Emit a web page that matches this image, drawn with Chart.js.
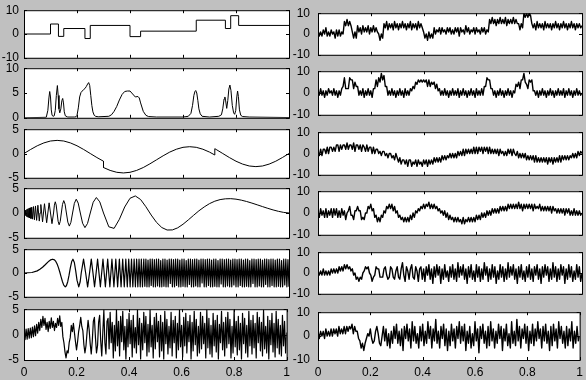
<!DOCTYPE html>
<html>
<head>
<meta charset="utf-8">
<script src="https://cdn.jsdelivr.net/npm/chart.js@4/dist/chart.umd.min.js"></script>
<style>
    html, body { margin: 0; padding: 0; background: #c0c0c0; overflow: hidden; }
    #wrap { position: relative; width: 586px; height: 380px; overflow: hidden; }
    #wrap canvas { position: absolute; }
</style>
</head>
<body>
<div id="wrap"></div>
<script>
// ---- data ----

// left column: clean test signals
const blocksT = [0, .1, .13, .15, .23, .25, .40, .44, .65, .76, .78, .81, 1];
const blocksV = [0, 4.2, -1, 2.3, -1.9, 3.6, -1.1, 1.2, 5.8, 2.3, 7.7, 3.6, 3.6];

const bumpsT = [0, .084, .09, .094, .097, .1, .103, .106, .11, .114, .118, .122, .126, .129, .132, .135, .139, .143, .146, .149,
    .152, .156, .165, .19, .196, .2, .205, .21, .215, .22, .225, .23, .235, .24, .244, .248, .252, .256, .26, .265,
    .27, .28, .32, .33, .34, .35, .36, .37, .38, .39, .40, .41, .42, .43, .435, .44, .45, .46, .47, .5,
    .6, .62, .63, .636, .641, .645, .648, .652, .656, .66, .665, .672, .7, .735, .745, .75, .755, .758, .761, .765,
    .769, .773, .777, .781, .786, .791, .795, .799, .803, .806, .809, .813, .818, .825, .85, 1];
const bumpsV = [0, .1, 1.5, 4, 5.3, 4.2, 1.6, .5, .3, .4, 1.5, 4.5, 6.5, 4.5, 1.8, 1.0, 1.8, 3.5, 3.9, 3,
    1.2, .4, .15, .15, .2, .5, 2, 4.2, 5.1, 5.4, 5.7, 5.9, 6.3, 6.8, 7.1, 6.5, 4.5, 2.5, 1.2, .5,
    .3, .2, .3, .6, 1.3, 2.3, 3.6, 4.7, 5.3, 5.4, 5.4, 4.8, 4.2, 4.3, 4.0, 3.0, 1.3, .5, .25, .15,
    .15, .3, .9, 2.5, 4.5, 5.3, 5.5, 5.0, 3.5, 1.8, .8, .3, .15, .3, .6, 1.8, 3.8, 4.2, 3.4, 1.9,
    3.5, 5.8, 6.6, 5.5, 2.5, 1.0, .7, 1.5, 4.2, 5.4, 4.3, 1.6, .5, .25, .15, .05];

const heaviT = [0, .025, .05, .075, .1, .125, .15, .175, .2, .225, .25, .275, .3, .3, .325, .35, .375, .4, .425, .45,
    .475, .5, .525, .55, .575, .6, .625, .65, .675, .7, .72, .72, .725, .75, .775, .8, .825, .85, .875, .9,
    .925, .95, .975, 1];
const heaviV = [0, .83, 1.59, 2.18, 2.57, 2.7, 2.57, 2.18, 1.59, .83, 0, -.83, -1.59, -2.89, -3.48, -3.87, -4.0, -3.87, -3.48, -2.89,
    -2.13, -1.3, -.47, .29, .88, 1.27, 1.4, 1.27, .88, .29, -.31, .99, .83, 0, -.83, -1.59, -2.18, -2.57, -2.7, -2.57,
    -2.18, -1.59, -.83, 0];

const dopT = [0, .0006, .0019, .0032, .0045, .006, .0075, .0092, .0109, .0127, .0146, .0167, .0189, .0212, .0237, .0264, .0292, .0324, .0357, .0394,
    .0433, .0477, .0524, .055, .0577, .0605, .0635, .0667, .07, .0735, .0773, .08125, .0855, .09, .0948, .1, .1056, .1115, .1147, .118,
    .1214, .125, .1287, .1326, .1367, .1409, .1453, .15, .1549, .16, .1654, .1711, .177, .1833, .19, .1971, .2045, .2125, .221, .23,
    .2397, .25, .2611, .2731, .286, .30, .32, .34, .36, .38, .40, .42, .44, .46, .48, .50, .52, .54, .56, .58,
    .60, .62, .64, .66, .68, .70, .72, .74, .76, .78, .80, .82, .84, .86, .88, .90, .92, .94, .96, .98, 1];
const dopV = [0, -.17, .30, -.40, .47, -.54, .60, -.67, .73, -.78, .84, -.90, .95, -1.01, 1.06, -1.12, 1.18, -1.24, 1.30, -1.36,
    1.42, -1.49, 1.56, 0, -1.63, 0, 1.71, 0, -1.79, 0, 1.87, 0, -1.96, 0, 2.05, 0, -2.15, 0, 1.58, 2.26,
    1.62, 0, -1.66, -2.37, -1.70, 0, 1.74, 2.5, 1.79, 0, -1.84, -2.64, -1.89, 0, 1.94, 2.78, 2.0, 0, -2.05, -2.95,
    -2.11, 0, 2.17, 3.12, 2.24, 0, -2.78, -3.10, -1.26, 1.21, 2.97, 3.44, 2.72, 1.26, -.41, -1.89, -2.93, -3.43, -3.41, -2.99,
    -2.27, -1.39, -.46, .44, 1.22, 1.89, 2.38, 2.70, 2.86, 2.89, 2.79, 2.59, 2.32, 2.0, 1.65, 1.29, .94, .62, .34, .12, 0];

const chirpT = [0, .03, .05, .06, .07, .08, .09, .095, .1, .108, .115, .12, .125, .13, .135, .14, .145, .15, .1557, .16,
    .165, .17, .175, .18, .1847, .19, .195, .2, .2066, .212, .216, .2247, .2327, .2401, .2473, .2539, .2603, .2662, .2721, .2777,
    .2882, .2980, .3071, .3158, .3240, .3318, .3393, .3464, .3533, .3599, .3663, .3724, .3784, .3842, .3898, .3952, .4005, .4057, .4107, .4156,
    .4204, .4250, .4296, .4341, .4385, .4428, .4471];
const chirpV = [0, .1, .45, .77, 1.2, 1.73, 2.29, 2.54, 2.75, 2.9, 2.75, 2.42, 1.88, 1.13, .21, -.8, -1.78, -2.55, -2.9, -2.68,
    -1.83, -.45, 1.14, 2.4, 2.9, 2.2, .5, -1.5, -2.9, -1.84, 0, 2.9, 0, -2.9, 0, 2.9, 0, -2.9, 0, 2.9,
    -2.9, 2.9, -2.9, 2.9, -2.9, 2.9, -2.9, 2.9, -2.9, 2.9, -2.9, 2.9, -2.9, 2.9, -2.9, 2.9, -2.9, 2.9, -2.9, 2.9,
    -2.9, 2.9, -2.9, 2.9, -2.9, 2.9, -2.9];
// past t = 0.452 the chirp is faster than a pixel: evenly spaced samples up to t = 1
const chirpTail = [2.9, -2.8, 2.9, -2.9, 2.7, -2.9, 2.9, -2.6, 2.9, -2.9,
    2.8, -2.9, 2.9, -2.7, 2.9, -2.9, 2.6, -2.9, 2.9, -2.8,
    2.9, -2.9, 2.7, -2.9, 2.9, -2.2, 2.9, -2.9, 2.8, -2.9,
    2.9, -2.6, 2.9, -2.9, 2.7, -2.9, 2.9, -2.8, 2.9, -2.9,
    2.6, -2.9, 2.9, -2.4, 2.9, -2.9, 2.8, -2.9, 2.9, -2.7,
    2.9, -2.9, 2.7, -2.9, 2.9, -2.1, 2.9, -2.9, 2.8, -2.9,
    2.9, -2.6, 2.9, -2.9, 2.7, -2.9, 2.9, -2.8, 2.9, -2.9,
    2.6, -2.9, 2.9, -2.3, 2.9, -2.9, 2.8, -2.9, 2.9, -2.7,
    2.9, -2.9, 2.7, -2.9, 2.9, -2.5, 2.9, -2.9, 2.8, -2.9,
    2.9, -2.6, 2.9, -2.9, 2.7, -2.9, 2.9, -2.8, 2.9, -2.9,
    2.6, -2.9, 2.9, -2.2, 2.9, -2.9, 2.8, -2.9, 2.9, -2.7,
    2.9, -2.9, 2.7, -2.9, 2.9, -2.4, 2.9, -2.9, 2.8, -2.9,
    2.9, -2.6, 2.9, -2.9, 2.7, -2.9, 2.9, -2.8, 2.9, -2.9,
    2.6, -2.9, 2.9, -2.5, 2.9, -2.9, 2.8, -2.9];

// evenly spaced on [0, 1], 251 samples
const mishmash = [0.8, -1, 1.1, -0.9, 1.2, -0.7, 1.3, -0.6, 1.5, -0.4,
    1.7, -0.2, 2, 0.3, 2.4, 0.8, 3, 1.4, 3.6, 1.8,
    3.2, 1, 2.4, 0.6, 2.6, 1.2, 3.3, 1.4, 2.6, 0.8,
    2.2, 1.4, 3.2, 1.8, 3.7, 1.6, 2.4, -0.4, -1.6, -3.4,
    -4.6, -3.2, -3.6, -1.6, -0.6, 1.8, 0.6, 2.2, 0.4, -1.4,
    -3, -1.4, 0.6, 1.8, 3.4, 1.6, 0.8, -2, -3.6, -2.2,
    0.4, 2.8, 1, -1.8, -3.8, -1.2, 2.6, 3.4, -0.6, -3.6,
    -2.2, 2.4, 3.8, -1.2, -4.2, 0.4, 4.8, -1.6, -3.8, 2.6,
    3.2, -2.8, 4.4, -1.6, 2.4, -4.6, 1.8, -3.2, 4.8, -2.2,
    2.6, -4.2, 3.6, -1.4, 4.6, -3, 1.6, -4.8, 3, -2.4,
    4.2, -1.8, 2.8, -4.4, 3.8, -2.6, 1.4, -3.6, 4.8, -2,
    3.2, -4.8, 2.2, -3, 4.4, -1.6, 3.6, -4.2, 2, -3.4,
    4.8, -2.4, 1.8, -4.6, 3.4, -2.8, 4.2, -1.4, 2.6, -4.4,
    3.8, -3.2, 2.4, -4.8, 4.6, -1.8, 3, -3.8, 1.6, -2.6,
    4.4, -4.2, 2.8, -1.6, 3.6, -4.6, 2.2, -3, 4.8, -2.4,
    1.8, -4.4, 3.4, -2.2, 4.2, -3.6, 2.6, -1.4, 3.8, -4.8,
    2.4, -3.2, 4.6, -2, 3, -4.2, 1.6, -3.6, 4.4, -2.8,
    3.6, -1.8, 2.2, -4.6, 4.8, -2.6, 3.2, -3.8, 1.8, -4.4,
    4.2, -2.2, 2.8, -3.4, 3.8, -4.8, 2, -1.6, 4.6, -3,
    2.4, -4.2, 3.4, -2.6, 4.4, -1.8, 3, -4.6, 1.6, -3.6,
    4.8, -2.4, 2.6, -4, 3.6, -3, 2.2, -4.8, 4.2, -1.8,
    3.2, -3.6, 1.8, -4.4, 4.6, -2.2, 2.8, -3.8, 3.8, -2.6,
    2.2, -4.6, 4.4, -1.6, 3.4, -3.2, 2.4, -4.2, 4.8, -2.8,
    1.6, -3.6, 3.6, -4.8, 2.8, -2, 4.2, -3.4, 2.2, -4.4,
    4.6, -2.6, 3, -3.8, 1.8, -4.2, 3.8, -2.2, 2.6, -3.6, 0.4];

// right column: noisy versions, evenly spaced on [0, 1], 201 samples each
const noisyBlocks = [2, -1, 1, -1, 2, 0, 3, -1, 1, -1, 2, 0, 1, -2, 2, -1, 2, -1, 1, 0,
    6, 4, 7, 4, 6, 4,
    1, -2, 1, -2,
    4, 1, 3, 0, 4, 1, 3, 1, 4, 0, 3, 1, 4, 1, 3, 1,
    0, -3, 0, -2,
    5, 3, 6, 2, 5, 3, 5, 2, 6, 3, 5, 2, 5, 3, 6, 3, 5, 2, 5, 3, 6, 2, 5, 3, 5, 2, 6, 3, 5, 3,
    1, -2, 0, -3, 1, -2, 0, -2,
    3, 0, 2, 1, 3, 0, 3, 1, 2, 0, 3, 1, 3, 0, 2, 0, 3, 1, 3, -1, 3, 1, 2, 0, 4, 1, 3, 0, 2, 1,
    3, 0, 3, 1, 2, 0, 3, 1, 3, 0, 2, 1,
    7, 5, 8, 5, 7, 4, 7, 5, 8, 5, 7, 5, 8, 4, 7, 5, 7, 5, 8, 5, 7, 5,
    5, 2, 5, 3,
    10, 8, 10, 8, 10, 9,
    5, 3, 5, 2, 6, 3, 5, 3, 5, 2, 6, 3, 5, 3, 5, 2, 5, 3, 6, 3,
    5, 2, 5, 3, 6, 3, 5, 2, 5, 3, 6, 3, 5, 2, 5, 3, 5, 3, 4];

const noisyBumps = [1, -1, 2, -1, 1, -2, 1, -1, 2, 0, 1, -1, 2, -1, 1, -2, 1, -1,
    2, 3, 7, 2, 2, 2, 7, 6, 6, 2, 5, 3, 3, -1,
    1, -1, 2, -2, 1, -1, 2, -1, 1, -2,
    2, 2, 6, 3, 7, 5, 9, 6, 8, 3, 3, -1,
    1, -1, 2, -1, 1, -2, 1, -1, 2, -1, 1, -2, 2, -1, 1, -1,
    2, 1, 3, 2, 5, 4, 6, 5, 6, 5, 6, 5, 6, 3, 6, 3, 5, 4, 5, 2, 4, 1, 2, -1,
    1, -1, 2, -1, 1, -2, 1, -1, 2, -1, 1, -1, 2, -2, 1, -1, 2, -1, 1, -2,
    1, -1, 2, -1, 1, -2, 2, -1, 1, -1, 2, -1,
    3, 3, 7, 6, 6, 2, 2,
    -1, 1, -2, 1, -1, 2, -1, 1, -2, 1, -1, 2, -1, 1, -2, 1,
    0, 4, 3, 5, 2, 6, 6, 9, 5, 4, 2, 6, 5, 6, 1, 1,
    -1, 1, -2, 1, -1, 2, -1, 1, -2, 1, -1, 2, -1, 1, -2, 1, -1, 2, -1, 1,
    -1, 2, -2, 1, -1, 2, -1, 1, -2, 1, -1, 2, -1, 1, -1, 0];

const noisyHeavi = [1, -1, 2, -1, 2, 2, 0, 3, 0, 3, 3, 1, 3, 1, 4, 4, 1, 4, 2, 4,
    4, 2, 5, 2, 4, 4, 2, 5, 1, 4, 4, 2, 4, 1, 4, 3, 1, 4, 1, 3,
    3, 0, 3, 0, 2, 2, 0, 1, -1, 1, 1, -1, 0, -2, 0, 0, -2, -1, -3, 0,
    -2, -4, -2, -5, -3, -3, -5, -3, -6, -3, -3, -6, -4, -5, -3, -6, -3, -5, -4, -6,
    -3, -5, -3, -6, -3, -5, -3, -5, -2, -4, -2, -4, -2, -4, -1, -3, -1, -3, -1, -2,
    0, -2, 0, -2, 0, -2, 1, -1, 1, -1, 2, -1, 2, 0, 2, 0, 2, 0, 3, 0,
    3, 0, 3, 1, 3, 0, 3, 1, 3, 0, 3, 0, 2, 0, 2, 0, 2, -1, 2, 0,
    1, -1, 1, -1, 2, 0, 2, -1, 2, 0,
    -1, 1, -2, 0, -2, 0, -2, 0, -3, -1, -3, -1, -3, -1, -4, -1, -4, -2, -4, -2,
    -4, -2, -4, -2, -5, -2, -4, -2, -5, -2, -4, -2, -4, -1, -4, -1, -3, -1, -3, -1,
    -3, -1, -2, 0, -2, 0, -2, 1, -1, 1, 0];

const noisyDoppler = [1, -2, 2, -1, 1, -2, 2, -2, 1, -1, 2, -2, 2, -1, 2, -2, 1, -2, 2, -1,
    1, -3, 0, 1, 3, -1, -1, -3, 1, 1,
    3, 1, 1, -3, -2, -3, 0, 0, 3, 2,
    4, 1, 2, -2, -1, -4, -2, -4, -1, -2,
    1, 0, 3, 2, 4, 2, 4, 1, 3, 0,
    1, -2, -1, -3, -2, -4, -2, -4, -2, -4,
    -1, -3, 0, -2, 1, 0, 2, 1, 3, 2,
    4, 2, 4, 3, 5, 2, 4, 2, 4, 2,
    3, 1, 2, 0, 1, -1, 1, -2, 0, -3,
    -1, -3, -2, -4, -2, -4, -2, -4, -3, -5,
    -2, -5, -3, -4, -2, -4, -2, -4, -2, -4,
    -1, -3, -1, -3, 0, -2, 0, -2, 1, -1,
    1, -1, 2, 0, 2, 0, 2, 0, 3, 1,
    3, 1, 3, 1, 4, 2, 4, 2, 4, 2,
    4, 2, 5, 2, 4, 1, 4, 2, 4, 2,
    4, 2, 4, 1, 4, 2, 3, 2, 4, 1,
    3, 1, 3, 1, 3, 1, 3, 0, 3, 1,
    2, 0, 2, 0, 2, 0, 2, -1, 2, 0,
    2, -1, 1, -1, 2, -1, 1, -1, 1, -1, 0];

const noisyChirp = [1, -1, 1, -1, 2, -1, 1, -1, 1, -1, 2, 0, 2, 0, 2, 0, 3, 1, 3, 1,
    4, 2, 4, 2, 3, 1, 2, -1, 0, -3,
    -2, -4, -2, -3, 0, 1, 3, 2, 3, 0,
    -1, -4, -2, -1, 3, 2, 2, -2, -2, -2,
    2, 3, -1, -3, -2, 3, 2, -2, -3, 1,
    3, -2, -3, 2, 5, -1, -4, 3, 1, -3, 2, 4, -2, -3, 3, 1, -4, 2, 3, -3,
    2, -4, 3, -1, 4, -3, 2, -5, 3, -2, 4, -1, 3, -5, 2, -3, 4, -2, 1, -4,
    3, -2, 4, -3, 2, -4, 5, -2, 3, -1, 4, -3, 2, -5, 3, -2, 4, -3, 1, -4,
    4, -2, 3, -4, 2, -3, 5, -1, 3, -4, 2, -3, 4, -2, 3, -5, 1, -3, 4, -2,
    3, -4, 2, -3, 5, -2, 3, -1, 4, -3, 2, -5, 3, -2, 4, -3, 1, -4, 3, -2,
    4, -3, 2, -4, 3, -1, 4, -3, 2, -5, 3, -2, 4, -1, 3, -4, 2, -3, 5, -2,
    3, -4, 2, -3, 4, -1, 3, -5, 2, -3, 4, -2, 3, -4, 1, -3, 4, -2, 3, -4, 0];

const noisyMish = [2, -1, 2, 0, 2, -1, 3, 0, 2, 0, 3, 0, 3, 1, 3, 0, 4, 1, 3, 1,
    4, 1, 4, 2, 4, 3, 5, 1, 4, 2,
    2, -1, -2, -5, -3, -6, -3, -1, 1, 0,
    3, -1, -3, -2, 2, 4, 1, -3, -4, 0,
    4, -2, 3, -4, 1, -5, 2, -3, 4, -1,
    5, -3, 2, -4, 3, -6, 4, -1, 5, -2,
    3, -5, 6, -2, 4, -3, 1, -5, 4, -2,
    5, -4, 2, -3, 6, -1, 4, -5, 3, -2,
    7, -3, 2, -5, 4, -1, 5, -4, 3, -6,
    2, -4, 5, -2, 3, -5, 4, -1, 6, -3,
    4, -2, 5, -6, 2, -3, 4, -5, 1, -4,
    6, -2, 3, -7, 4, -1, 5, -3, 2, -5,
    4, -4, 6, -2, 3, -5, 2, -3, 5, -1,
    4, -6, 3, -2, 5, -4, 1, -5, 6, -3,
    2, -4, 7, -2, 4, -5, 3, -1, 5, -3,
    4, -6, 2, -3, 5, -4, 3, -2, 6, -1,
    3, -5, 4, -2, 5, -3, 2, -6, 4, -4,
    5, -2, 3, -5, 6, -1, 4, -3, 2, -5,
    4, -4, 3, -2, 6, -5, 2, -3, 4, -2, 0];

// ---- helpers ----
function pts(xs, ys) {
    return ys.map((y, i) => ({ x: xs[i], y: y }));
}
function evenPts(ys, t0 = 0, t1 = 1) {
    return ys.map((y, i) => ({ x: t0 + (t1 - t0) * i / (ys.length - 1), y: y }));
}

// plot box positions (pixels) of the 6x2 grid
const rowTop = [8, 66, 127, 186, 247, 307];
const rowBottom = [60, 120, 180, 240, 299, 360];
const colLeft = [24, 318];
const colRight = [289, 582];
const canvasLeft = [0, 290];

const font = { family: '"Liberation Sans", Arial, Helvetica, sans-serif', size: 12 };

// draws the white plot area, the box and MATLAB-style inward tick marks
const boxPlugin = {
    id: 'box',
    beforeDatasetsDraw(chart) {
        const { ctx, chartArea: a } = chart;
        ctx.save();
        ctx.fillStyle = '#fff';
        ctx.fillRect(a.left, a.top, a.right - a.left, a.bottom - a.top);
        ctx.restore();
    },
    afterDatasetsDraw(chart) {
        const { ctx, chartArea: a, scales } = chart;
        const tl = 3;
        ctx.save();
        ctx.strokeStyle = '#000';
        ctx.lineWidth = 1;
        ctx.beginPath();
        scales.x.ticks.forEach(t => {
            const px = Math.round(scales.x.getPixelForValue(t.value)) + 0.5;
            ctx.moveTo(px, a.top); ctx.lineTo(px, a.top + tl);
            ctx.moveTo(px, a.bottom); ctx.lineTo(px, a.bottom - tl);
        });
        scales.y.ticks.forEach(t => {
            const py = Math.round(scales.y.getPixelForValue(t.value)) + 0.5;
            ctx.moveTo(a.left, py); ctx.lineTo(a.left + tl, py);
            ctx.moveTo(a.right, py); ctx.lineTo(a.right - tl, py);
        });
        ctx.stroke();
        ctx.strokeRect(a.left + 0.5, a.top + 0.5, a.right - a.left, a.bottom - a.top);
        ctx.restore();
    }
};

// [column, row, points, yMin, yMax, yStep, stepped, line width]
const panels = [
    [0, 0, pts(blocksT, blocksV), -10, 10, 10, 'before', 1],
    [1, 0, evenPts(noisyBlocks), -10, 10, 10, false, 1.4],
    [0, 1, pts(bumpsT, bumpsV), 0, 10, 5, false, 1],
    [1, 1, evenPts(noisyBumps), -10, 10, 10, false, 1.4],
    [0, 2, pts(heaviT, heaviV), -5, 5, 5, false, 1],
    [1, 2, evenPts(noisyHeavi), -10, 10, 10, false, 1.4],
    [0, 3, pts(dopT, dopV), -5, 5, 5, false, 1],
    [1, 3, evenPts(noisyDoppler), -10, 10, 10, false, 1.4],
    [0, 4, pts(chirpT, chirpV).concat(evenPts(chirpTail, 0.452, 1)), -5, 5, 5, false, 1.2],
    [1, 4, evenPts(noisyChirp), -10, 10, 10, false, 1.4],
    [0, 5, evenPts(mishmash), -5, 5, 5, false, 1.2],
    [1, 5, evenPts(noisyMish), -10, 10, 10, false, 1.4]
];

const wrap = document.getElementById('wrap');

panels.forEach(([col, row, data, yMin, yMax, yStep, stepped, lw]) => {
    const padL = colLeft[col] - canvasLeft[col];
    const padT = 10;
    const padR = 6;
    const padB = row === 5 ? 22 : 10;
    const w = padL + (colRight[col] - colLeft[col]) + padR;
    const h = padT + (rowBottom[row] - rowTop[row]) + padB;

    const canvas = document.createElement('canvas');
    canvas.width = w;
    canvas.height = h;
    canvas.style.left = canvasLeft[col] + 'px';
    canvas.style.top = (rowTop[row] - padT) + 'px';
    wrap.appendChild(canvas);

    new Chart(canvas, {
        type: 'line',
        data: {
            datasets: [{
                data: data,
                borderColor: '#000',
                borderWidth: lw,
                borderJoinStyle: 'round',
                pointRadius: 0,
                fill: false,
                tension: 0,
                stepped: stepped
            }]
        },
        options: {
            responsive: false,
            animation: false,
            devicePixelRatio: 1,
            layout: { padding: { top: padT, right: padR, left: 0, bottom: 0 } },
            plugins: { legend: { display: false }, tooltip: { enabled: false } },
            scales: {
                x: {
                    type: 'linear',
                    min: 0,
                    max: 1,
                    grid: { display: false, drawTicks: false },
                    border: { display: false },
                    ticks: {
                        display: row === 5,
                        stepSize: 0.2,
                        autoSkip: false,
                        maxRotation: 0,
                        padding: 5,
                        color: '#000',
                        font: font,
                        callback: v => +v.toFixed(1)
                    },
                    afterFit: s => { s.height = padB; }
                },
                y: {
                    min: yMin,
                    max: yMax,
                    grid: { display: false, drawTicks: false },
                    border: { display: false },
                    ticks: {
                        stepSize: yStep,
                        padding: col ? 8 : 5,
                        color: '#000',
                        font: font
                    },
                    afterFit: s => { s.width = padL; }
                }
            }
        },
        plugins: [boxPlugin]
    });
});
</script>
</body>
</html>
